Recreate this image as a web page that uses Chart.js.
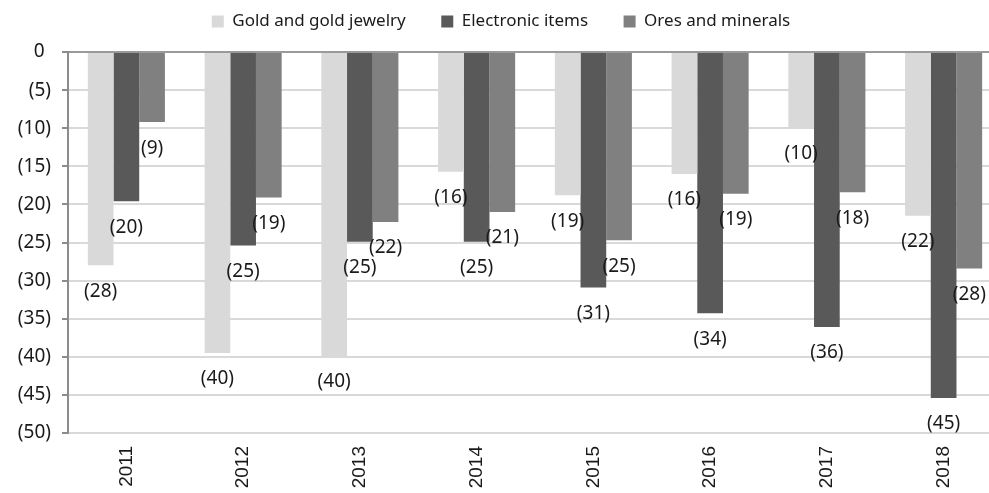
<!DOCTYPE html>
<html>
<head>
<meta charset="utf-8">
<script src="https://cdn.jsdelivr.net/npm/chart.js@4/dist/chart.umd.min.js"></script>
<style>
  html, body { margin: 0; padding: 0; background: #fff; overflow: hidden; }
  #wrap { width: 1002px; height: 493px; position: relative; }
</style>
</head>
<body>
<div id="wrap"><canvas id="chart"></canvas></div>
<script>
// values (negative = down from 0)
const years = ['2011', '2012', '2013', '2014', '2015', '2016', '2017', '2018'];
const goldJewelry = [-28.0, -39.5, -39.9, -15.7, -18.8, -16.0, -9.9, -21.5];
const electronicItems = [-19.6, -25.4, -24.9, -24.9, -30.9, -34.3, -36.1, -45.4];
const oresMinerals = [-9.2, -19.1, -22.3, -21.0, -24.7, -18.6, -18.4, -28.4];

const seriesNames = ['Gold and gold jewelry', 'Electronic items', 'Ores and minerals'];
const seriesColors = ['#d9d9d9', '#595959', '#808080'];

// labels "(28)" under each bar end
const barLabels = {
  id: 'barLabels',
  beforeLayout(chart) {
    // leave a gap under the legend without moving the legend itself
    const lg = chart.legend;
    if (lg && !lg._gapPatched) {
      const fit = lg.fit;
      lg.fit = function () { fit.call(this); this.height += 12; };
      lg._gapPatched = true;
    }
  },
  afterDatasetsDraw(chart) {
    const ctx = chart.ctx;
    ctx.save();
    ctx.font = '19px "Noto Sans"';
    ctx.fillStyle = '#1a1a1a';
    ctx.textAlign = 'center';
    ctx.textBaseline = 'middle';
    chart.data.datasets.forEach((ds, i) => {
      chart.getDatasetMeta(i).data.forEach((bar, j) => {
        ctx.fillText(`(${Math.round(-ds.data[j])})`, bar.x, bar.y + 26);
      });
    });
    ctx.restore();
  }
};

new Chart(document.getElementById('chart').getContext('2d'), {
  type: 'bar',
  data: {
    labels: years,
    datasets: [goldJewelry, electronicItems, oresMinerals].map((data, i) => ({
      label: seriesNames[i],
      data,
      backgroundColor: seriesColors[i],
      borderWidth: 0,
      categoryPercentage: 0.66,
      barPercentage: 1.0
    }))
  },
  options: {
    responsive: true,
    maintainAspectRatio: false,
    animation: false,
    layout: { padding: { top: 3, left: 0, right: 0, bottom: 0 } },
    plugins: {
      tooltip: { enabled: false },
      legend: {
        position: 'top',
        labels: {
          font: { family: 'Noto Sans', size: 17 },
          color: '#1a1a1a',
          boxWidth: 12,
          boxHeight: 12,
          padding: 10,
          // extra room between the items, like the original
          generateLabels(chart) {
            const items = Chart.defaults.plugins.legend.labels.generateLabels(chart);
            items.forEach((it, i) => {
              it.lineWidth = 0;
              if (i < items.length - 1) it.text += '\u2003\u2002';
            });
            return items;
          }
        }
      }
    },
    scales: {
      x: {
        grid: { display: false, drawTicks: false },
        border: { display: false },
        ticks: {
          font: { family: 'Liberation Sans', size: 19 },
          color: '#1a1a1a',
          minRotation: 90,
          maxRotation: 90,
          padding: 13
        },
        afterFit(scale) { scale.height = 60; }
      },
      y: {
        min: -50,
        max: 0,
        ticks: {
          stepSize: 5,
          font: { family: 'Noto Sans', size: 19 },
          color: '#1a1a1a',
          padding: 11,
          callback: v => v === 0 ? '0\u2009\u2009' : `(${-v})`
        },
        grid: {
          color: ctx => ctx.tick && ctx.tick.value === 0 ? '#9a9a9a' : '#d9d9d9',
          lineWidth: 2,
          tickColor: '#8c8c8c',
          tickLength: 6
        },
        border: { color: '#8c8c8c', width: 2 },
        afterFit(scale) { scale.width = 68; }
      }
    }
  },
  plugins: [barLabels]
});
</script>
</body>
</html>
